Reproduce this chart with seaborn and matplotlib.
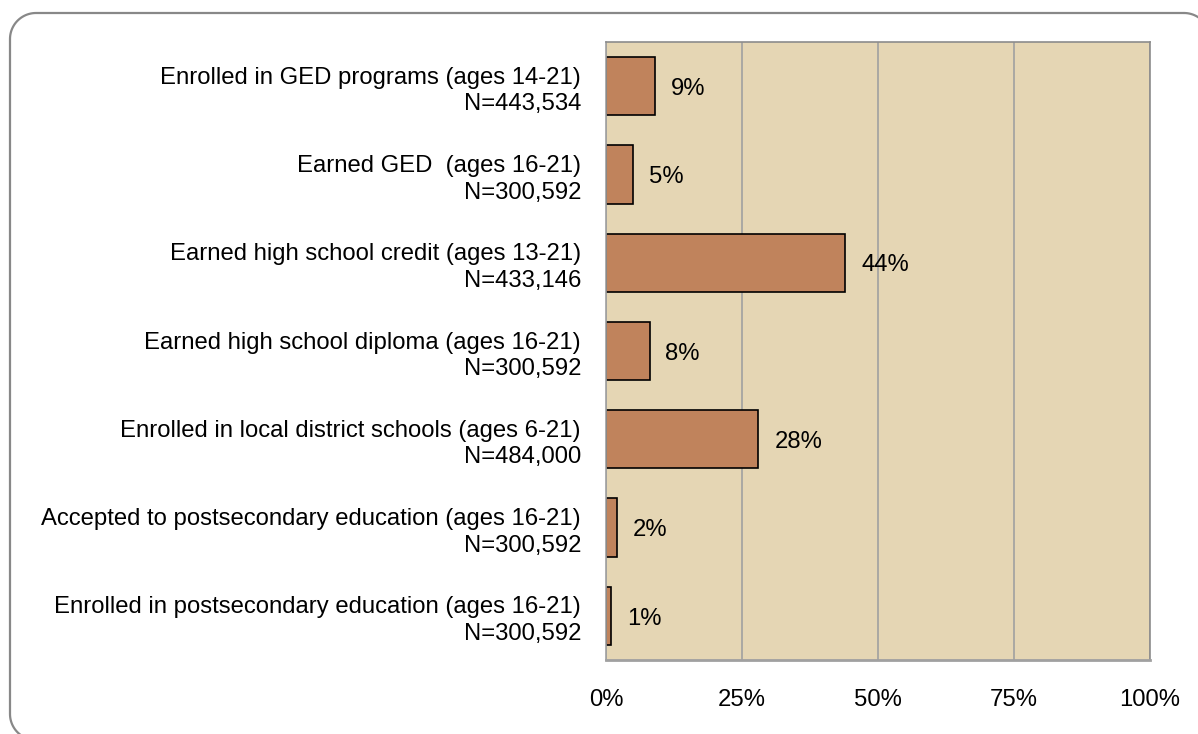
import matplotlib
matplotlib.use("Agg")
import matplotlib.pyplot as plt
import numpy as np
import seaborn as sns
import pandas as pd

categories = [
    "Enrolled in GED programs (ages 14-21)\nN=443,534",
    "Earned GED  (ages 16-21)\nN=300,592",
    "Earned high school credit (ages 13-21)\nN=433,146",
    "Earned high school diploma (ages 16-21)\nN=300,592",
    "Enrolled in local district schools (ages 6-21)\nN=484,000",
    "Accepted to postsecondary education (ages 16-21)\nN=300,592",
    "Enrolled in postsecondary education (ages 16-21)\nN=300,592",
]
percents = [9, 5, 44, 8, 28, 2, 1]
x_ticks = [0, 25, 50, 75, 100]
x_tick_labels = ["0%", "25%", "50%", "75%", "100%"]

df = pd.DataFrame({"category": categories, "percent": percents})

sns.set_theme(style="white")
plt.rcParams["font.family"] = ["Liberation Sans", "DejaVu Sans"]
plt.rcParams["text.color"] = "black"
plt.rcParams["xtick.color"] = "black"
plt.rcParams["ytick.color"] = "black"

W, H = 1198, 734
fig = plt.figure(figsize=(W / 100, H / 100), dpi=100)

# overlay in pixel units for the rounded outer frame (polyline, y grows downward)
frame_ax = fig.add_axes([0, 0, 1, 1])
frame_ax.set_xlim(0, W)
frame_ax.set_ylim(H, 0)
frame_ax.axis("off")


def rounded_rect(x0, y0, x1, y1, r, n=24):
    pts = []
    corners = [(x1 - r, y0 + r, -90, 0), (x1 - r, y1 - r, 0, 90),
               (x0 + r, y1 - r, 90, 180), (x0 + r, y0 + r, 180, 270)]
    for cx, cy, a0, a1 in corners:
        t = np.radians(np.linspace(a0, a1, n))
        pts.extend(zip(cx + r * np.cos(t), cy + r * np.sin(t)))
    pts.append(pts[0])
    return np.array(pts)


outline = rounded_rect(10, 13, 1210, 740, 26)
frame_ax.plot(outline[:, 0], outline[:, 1], color="#888888", linewidth=1.6,
              solid_joinstyle="round")

ax = fig.add_axes([606 / W, 1 - 660 / H, 544 / W, 618 / H])

FS = 17.2
bar_color = "#C0835C"
ax.set_facecolor("#E5D6B4")
sns.barplot(data=df, x="percent", y="category", orient="h", color=bar_color,
            edgecolor="black", linewidth=1.2, width=0.66, saturation=1, ax=ax)

ax.set_xlim(0, 100)
ax.set_xticks(x_ticks)
ax.set_xticklabels(x_tick_labels, fontsize=FS)
ax.tick_params(axis="x", length=0, pad=21)
ax.tick_params(axis="y", length=0, pad=18)
for lbl in ax.get_yticklabels():
    lbl.set_fontsize(FS)
    lbl.set_horizontalalignment("right")
    lbl.set_multialignment("right")
    lbl.set_linespacing(1.27)
ax.set_xlabel("")
ax.set_ylabel("")

ax.grid(axis="x", color="#A0A0A0", linewidth=1.2)
ax.set_axisbelow(True)
for side in ["top", "right"]:
    ax.spines[side].set_color("#8C8C8C")
    ax.spines[side].set_linewidth(1.2)
ax.spines["left"].set_color("#A0A0A0")
ax.spines["left"].set_linewidth(1.2)
ax.spines["bottom"].set_color("#A0A0A0")
ax.spines["bottom"].set_linewidth(2.0)

for i, v in enumerate(percents):
    ax.annotate(f"{v}%", xy=(v, i), xytext=(11.5, -2), textcoords="offset points",
                ha="left", va="center", fontsize=FS, color="black")

fig.savefig("out.png", dpi=100)
